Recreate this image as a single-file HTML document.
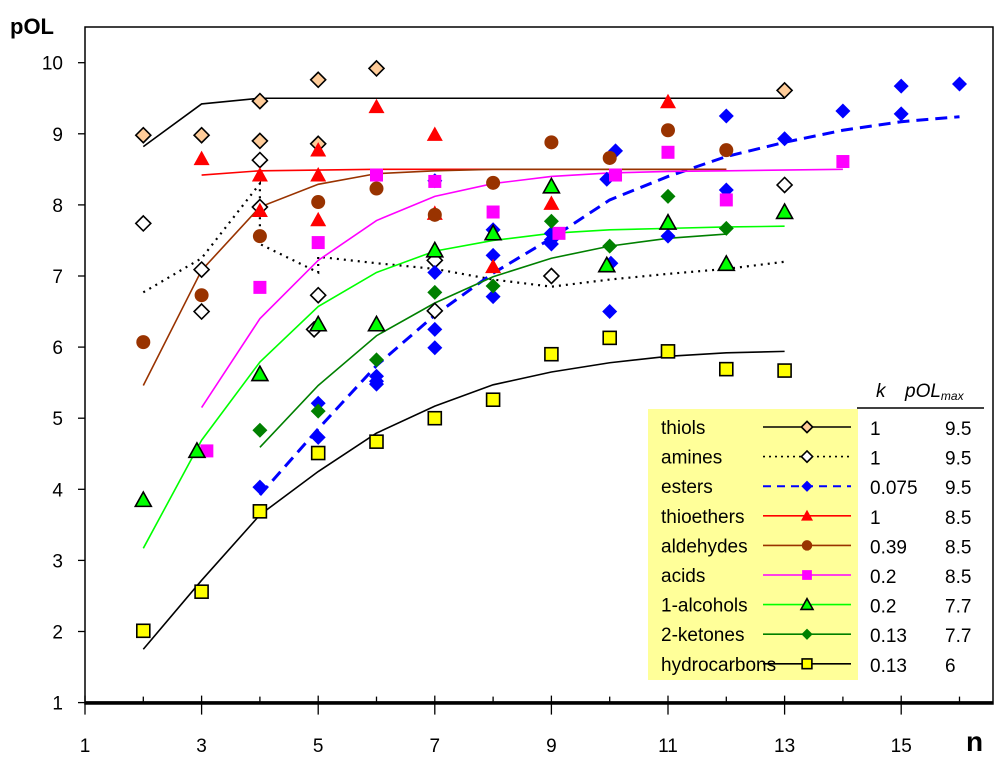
<!DOCTYPE html>
<html><head><meta charset="utf-8"><style>
html,body{margin:0;padding:0;background:#fff}
svg{display:block;font-family:"Liberation Sans",Arial,sans-serif}
</style></head><body>
<svg id="chart" width="1000" height="757" viewBox="0 0 1000 757">
<rect x="85" y="27" width="908" height="677" fill="none" stroke="#000" stroke-width="1.5"/>
<g id="axes"></g><g id="lines"></g><g id="marks"></g>
<text x="10" y="34" font-size="22" font-weight="bold">pOL</text>
<text x="966" y="751" font-size="28" font-weight="bold">n</text>
<g id="legend">
<rect x="648" y="409" width="210" height="271" fill="#ffff99"/>
<line x1="857" y1="408" x2="984" y2="408" stroke="#000" stroke-width="1.5"/>
<text x="876" y="397" font-size="19" font-style="italic">k</text>
<text x="905" y="397" font-size="19" font-style="italic">pOL<tspan font-size="12" dy="3">max</tspan></text>
</g>
</svg>
<script>
const xTicks=[1,3,5,7,9,11,13,15];
const yTicks=[1,2,3,4,5,6,7,8,9,10];
const seriesNames=["thiols","amines","esters","thioethers","aldehydes","acids","1-alcohols","2-ketones","hydrocarbons"];
const kValues=["1","1","0.075","1","0.39","0.2","0.2","0.13","0.13"];
const pOLmax=["9.5","9.5","9.5","8.5","8.5","8.5","7.7","7.7","6"];
// points [n, pOL]
const thiolsPts=[[2,8.98],[3,8.98],[4,9.46],[4,8.9],[5,9.76],[5,8.86],[6,9.92],[13,9.61]];
const thiolsLine=[[2,8.82],[3,9.42],[4,9.5],[5,9.5],[7,9.5],[9,9.5],[11,9.5],[13,9.5]];
const aminesPts=[[2,7.74],[3,7.09],[3,6.5],[4,8.63],[4,7.97],[5,6.73],[4.93,6.25],[7,7.22],[7,6.51],[9,7.0],[13,8.28]];
const aminesLine=[[2,6.77],[3,7.25],[4,8.3],[4,7.45],[5,7.05],[5,7.27],[6,7.18],[7,7.1],[8,6.95],[9,6.85],[10,6.95],[11,7.03],[12,7.1],[13,7.2]];
const estersPts=[[4,4.03],[5,5.21],[5,4.73],[6,5.59],[6,5.52],[6,5.48],[7,5.99],[7,8.34],[7,7.05],[7,6.25],[8,7.65],[8,7.29],[8,6.71],[9,7.6],[9,7.51],[9,7.45],[10.1,8.76],[9.95,8.36],[10.02,7.18],[10,6.5],[11,7.56],[12,9.25],[12,8.21],[13,8.93],[14,9.32],[15,9.67],[15,9.28],[16,9.7]];
const estersLine=[[4,3.92],[5,4.85],[6,5.74],[7,6.45],[8,7.04],[9,7.53],[10,8.07],[11,8.4],[12,8.68],[13,8.88],[14,9.05],[15,9.17],[16,9.24]];
const thioethersPts=[[3,8.65],[4,8.42],[4,7.92],[5,8.77],[5,8.42],[5,7.79],[6,9.38],[7,8.99],[7,7.88],[8,7.13],[9,8.02],[11,9.45]];
const thioethersLine=[[3,8.42],[4,8.48],[6,8.5],[12,8.5]];
const aldehydesPts=[[2,6.07],[3,6.73],[4,7.56],[5,8.04],[6,8.23],[7,7.86],[8,8.31],[9,8.88],[10,8.66],[11,9.05],[12,8.77]];
const aldehydesLine=[[2,5.46],[3,7.08],[4,7.97],[5,8.29],[6,8.44],[7,8.48],[8,8.5],[12,8.5]];
const acidsPts=[[3.09,4.54],[4,6.84],[5,7.47],[6,8.42],[7,8.33],[8,7.9],[9.13,7.6],[10.1,8.42],[11,8.74],[12,8.07],[14,8.61]];
const acidsLine=[[3,5.15],[4,6.4],[5,7.22],[6,7.78],[7,8.12],[8,8.3],[9,8.4],[10,8.45],[11,8.47],[12,8.48],[14,8.5]];
const alcoholsPts=[[2,3.85],[2.92,4.54],[4,5.62],[5,6.32],[6,6.32],[7,7.36],[8,7.6],[9,8.26],[9.95,7.15],[11,7.75],[12,7.17],[13,7.9]];
const alcoholsLine=[[2,3.17],[3,4.69],[4,5.79],[5,6.57],[6,7.05],[7,7.35],[8,7.5],[9,7.6],[10,7.65],[11,7.67],[12,7.69],[13,7.7]];
const ketonesPts=[[4,4.83],[5,5.1],[6,5.82],[7,6.77],[8,6.86],[9,7.77],[10,7.42],[11,8.12],[12,7.67]];
const ketonesLine=[[4,4.59],[5,5.46],[6,6.16],[7,6.62],[8,6.99],[9,7.25],[10,7.42],[11,7.53],[12,7.59]];
const hcPts=[[2,2.01],[3,2.56],[4,3.69],[5,4.51],[6,4.67],[7,5.0],[8,5.26],[9,5.9],[10,6.13],[11,5.94],[12,5.69],[13,5.67]];
const hcLine=[[2,1.75],[3,2.72],[4,3.64],[5,4.25],[6,4.79],[7,5.17],[8,5.47],[9,5.65],[10,5.78],[11,5.87],[12,5.92],[13,5.94]];

const NS="http://www.w3.org/2000/svg";
function X(n){return 85+58.3*(n-1);}
function Y(v){return 62.7+(10-v)*71.1;}
function el(tag,attrs,parent){const e=document.createElementNS(NS,tag);for(const k in attrs)e.setAttribute(k,attrs[k]);parent.appendChild(e);return e;}
const axes=document.getElementById('axes'),lines=document.getElementById('lines'),marks=document.getElementById('marks'),legend=document.getElementById('legend');
// x axis
const xl=el('line',{x1:85,y1:Y(1),x2:993,y2:Y(1),stroke:'#000','stroke-width':3},axes);


for(let n=1;n<=17;n++){
  const t=el('line',{x1:X(n),y1:Y(1)-(n%2?7:6),x2:X(n),y2:Y(1)+(n%2?12:0),stroke:'#000','stroke-width':1.3},axes);
  
  
}
xTicks.forEach(n=>{const t=el('text',{x:X(n),y:752,'font-size':19,'text-anchor':'middle'},axes);t.textContent=n;
  
  });
yTicks.forEach(v=>{
  const t=el('line',{x1:78,y1:Y(v),x2:85,y2:Y(v),stroke:'#000','stroke-width':1.3},axes);
  
  
  const l=el('text',{x:63,y:Y(v)+7,'font-size':19,'text-anchor':'end'},axes);l.textContent=v;
  
  
});
function line(pts,color,dash,w,name){
  const p=el('polyline',{points:pts.map(q=>X(q[0])+','+Y(q[1])).join(' '),fill:'none',stroke:color,'stroke-width':w||1.6},lines);
  if(dash)p.setAttribute('stroke-dasharray',dash);
  
  
}
function marker(type,cx,cy,fill,stroke,parent,s){
  s=s||1;let e;
  if(type==='diamond'){const r=7.5*s;e=el('polygon',{points:`${cx},${cy-r} ${cx+r},${cy} ${cx},${cy+r} ${cx-r},${cy}`,fill:fill,stroke:stroke,'stroke-width':stroke==='none'?0:1.6},parent);}
  else if(type==='circle'){e=el('circle',{cx:cx,cy:cy,r:7*s,fill:fill},parent);}
  else if(type==='square'){const r=6.5*s;e=el('rect',{x:cx-r,y:cy-r,width:2*r,height:2*r,fill:fill,stroke:stroke,'stroke-width':stroke==='none'?0:1.6},parent);}
  else {const r=8*s;e=el('polygon',{points:`${cx},${cy-r} ${cx+r},${cy+r*0.8} ${cx-r},${cy+r*0.8}`,fill:fill,stroke:stroke,'stroke-width':stroke==='none'?0:1.6},parent);}
  return e;
}
function points(pts,type,fill,stroke,name){
  pts.forEach(q=>{const m=marker(type,X(q[0]),Y(q[1]),fill,stroke,marks);
    
    });
}
const S=[
 {line:thiolsLine,pts:thiolsPts,color:'#000',dash:null,w:1.6,type:'diamond',fill:'#ffcc99',stroke:'#000'},
 {line:aminesLine,pts:aminesPts,color:'#000',dash:'2,5',w:2.2,type:'diamond',fill:'#fff',stroke:'#000'},
 {line:estersLine,pts:estersPts,color:'#0000ff',dash:'12,7',w:3,type:'diamond',fill:'#0000ff',stroke:'none'},
 {line:thioethersLine,pts:thioethersPts,color:'#ff0000',dash:null,w:1.6,type:'triangle',fill:'#ff0000',stroke:'none'},
 {line:aldehydesLine,pts:aldehydesPts,color:'#993300',dash:null,w:1.6,type:'circle',fill:'#993300',stroke:'none'},
 {line:acidsLine,pts:acidsPts,color:'#ff00ff',dash:null,w:1.6,type:'square',fill:'#ff00ff',stroke:'none'},
 {line:alcoholsLine,pts:alcoholsPts,color:'#00ff00',dash:null,w:1.6,type:'triangle',fill:'#00ff00',stroke:'#000'},
 {line:ketonesLine,pts:ketonesPts,color:'#008000',dash:null,w:1.6,type:'diamond',fill:'#008000',stroke:'none'},
 {line:hcLine,pts:hcPts,color:'#000',dash:null,w:1.6,type:'square',fill:'#ffff00',stroke:'#000'}
];
S.forEach((s,i)=>{line(s.line,s.color,s.dash,s.w,seriesNames[i]+'-fit-line');});
S.forEach((s,i)=>{points(s.pts,s.type,s.fill,s.stroke,seriesNames[i]+'-point');});
S.forEach((s,i)=>{
  const cy=427+i*29.6;
  const t=el('text',{x:661,y:cy+7,'font-size':19},legend);t.textContent=seriesNames[i];
  
  
  const l=el('line',{x1:763,y1:cy,x2:851,y2:cy,stroke:s.color,'stroke-width':s.dash==='12,7'?2:1.6},legend);
  if(s.dash)l.setAttribute('stroke-dasharray',s.dash==='12,7'?'8,6':'2,4');
  
  
  const m=marker(s.type,807,cy,s.fill,s.stroke,legend,0.75);
  
  
  const k=el('text',{x:870,y:cy+8,'font-size':19},legend);k.textContent=kValues[i];
  
  
  const p=el('text',{x:945,y:cy+8,'font-size':19},legend);p.textContent=pOLmax[i];
  
  
});
</script>
</body></html>
